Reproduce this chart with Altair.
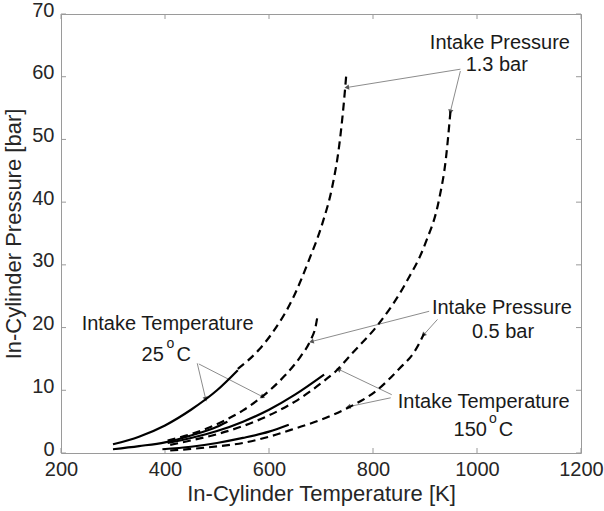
import math
import altair as alt
import pandas as pd

# ---------------- data ----------------
# solid curves
s1_T = [300, 350, 400, 450, 500, 540]
s1_P = [1.4, 2.6, 4.4, 6.9, 10.0, 13.2]
s2_T = [300, 350, 400, 450, 500, 520]
s2_P = [0.6, 1.1, 1.7, 2.8, 4.2, 5.0]
s3_T = [405, 450, 500, 550, 600, 650, 706]
s3_P = [1.6, 2.4, 3.5, 5.0, 6.9, 9.3, 12.5]
s4_T = [395, 450, 500, 550, 600, 638]
s4_P = [0.6, 1.0, 1.6, 2.4, 3.4, 4.5]

# dashed curves
d1_T = [540, 581, 606, 645, 677, 703, 722, 735, 744, 749]
d1_P = [13.4, 16.5, 19.1, 24.5, 30.8, 36.7, 42.6, 49.0, 55.9, 60.7]
d2_T = [405, 450, 510, 550, 587, 630, 660, 680, 690, 693]
d2_P = [2.0, 3.0, 5.0, 6.8, 9.0, 12.3, 15.3, 18.0, 20.3, 21.7]
d3_T = [410, 450, 500, 550, 600, 650, 709, 728, 760, 812, 863, 901, 927, 940, 949]
d3_P = [1.3, 2.0, 3.0, 4.3, 6.0, 8.2, 11.7, 13.0, 15.9, 20.7, 27.1, 33.5, 40.4, 46.8, 54.5]
d4_T = [410, 450, 500, 550, 600, 650, 700, 754, 806, 850, 880, 898]
d4_P = [0.4, 0.65, 1.05, 1.6, 2.6, 3.9, 5.3, 7.3, 9.9, 13.4, 16.2, 19.0]

# annotation texts (centered)
ann_text = ["Intake Pressure", "1.3 bar", "Intake Pressure", "0.5 bar",
            "Intake Temperature", "Intake Temperature"]
ann_T = [1044, 1038, 1048, 1050, 405, 1013]
ann_P = [65.4, 61.9, 23.1, 19.3, 20.6, 8.2]

# temperature values with superscript "o" (left aligned pieces)
deg_text = ["25", "C", "150", "C"]
deg_T = [355, 422, 955, 1042]
deg_P = [15.7, 15.7, 3.7, 3.7]
sup_text = ["o", "o"]
sup_T = [403, 1023]
sup_P = [17.4, 5.4]

# annotation arrows: start -> tip
arr_T1 = [968, 968, 908, 924, 462, 465, 836, 834]
arr_P1 = [61.2, 60.9, 22.6, 21.3, 14.3, 14.2, 9.3, 8.8]
arr_T2 = [751, 949, 683, 898, 478, 587, 735, 754]
arr_P2 = [58.3, 54.5, 17.8, 18.9, 8.7, 9.0, 13.3, 7.4]

x_ticks = [200, 400, 600, 800, 1000, 1200]
y_ticks = [0, 10, 20, 30, 40, 50, 60, 70]

# ---------------- build tables ----------------
W, H = 520, 439
X_DOM, Y_DOM = [200, 1200], [0, 70]
FONT = "Liberation Sans"
TXT = "#262626"
AX = "#9a9a9a"


def curves(named):
    rows = []
    for name, (ts, ps) in named.items():
        for i, (t, p) in enumerate(zip(ts, ps)):
            rows.append({"series": name, "T": t, "P": p, "i": i})
    return pd.DataFrame(rows)


solid = curves({"s1": (s1_T, s1_P), "s2": (s2_T, s2_P),
                "s3": (s3_T, s3_P), "s4": (s4_T, s4_P)})
dashed = curves({"d1": (d1_T, d1_P), "d2": (d2_T, d2_P),
                 "d3": (d3_T, d3_P), "d4": (d4_T, d4_P)})

kx = W / (X_DOM[1] - X_DOM[0])
ky = H / (Y_DOM[1] - Y_DOM[0])
arrows = pd.DataFrame({"T1": arr_T1, "P1": arr_P1, "T2": arr_T2, "P2": arr_P2})
arrows["ang"] = [
    math.degrees(math.atan2((t2 - t1) * kx, (p2 - p1) * ky)) % 360
    for t1, p1, t2, p2 in zip(arr_T1, arr_P1, arr_T2, arr_P2)
]

ann = pd.DataFrame({"text": ann_text, "T": ann_T, "P": ann_P})
deg = pd.DataFrame({"text": deg_text, "T": deg_T, "P": deg_P})
sup = pd.DataFrame({"text": sup_text, "T": sup_T, "P": sup_P})
xt = pd.DataFrame({"v": x_ticks})
yt = pd.DataFrame({"v": y_ticks})

xs = alt.Scale(domain=X_DOM, nice=False, zero=False)
ys = alt.Scale(domain=Y_DOM, nice=False, zero=False)

x_axis = alt.Axis(values=x_ticks, format="d", title="In-Cylinder Temperature [K]",
                  grid=False, ticks=False, domain=False, labelFlush=False,
                  labelFontSize=20, titleFontSize=22,
                  labelColor=TXT, titleColor=TXT, labelFont=FONT, titleFont=FONT,
                  labelPadding=6, titlePadding=4, titleFontWeight="normal")
y_axis = alt.Axis(values=y_ticks, format="d", title="In-Cylinder Pressure [bar]",
                  grid=False, ticks=False, domain=False, labelFlush=False,
                  labelFontSize=20, titleFontSize=22, labelOffset=-4,
                  labelColor=TXT, titleColor=TXT, labelFont=FONT, titleFont=FONT,
                  labelPadding=7, titlePadding=6, titleFontWeight="normal")

base_solid = alt.Chart(solid).mark_line(color="black", strokeWidth=2.2,
                                         interpolate="monotone").encode(
    x=alt.X("T:Q", scale=xs, axis=x_axis),
    y=alt.Y("P:Q", scale=ys, axis=y_axis),
    detail="series:N",
    order="i:Q",
)
base_dashed = alt.Chart(dashed).mark_line(color="black", strokeWidth=2.2,
                                           strokeDash=[8, 5],
                                           interpolate="monotone").encode(
    x=alt.X("T:Q", scale=xs),
    y=alt.Y("P:Q", scale=ys),
    detail="series:N",
    order="i:Q",
)

arrow_lines = alt.Chart(arrows).mark_rule(color="#8c8c8c", strokeWidth=1).encode(
    x=alt.X("T1:Q", scale=xs), y=alt.Y("P1:Q", scale=ys),
    x2="T2:Q", y2="P2:Q",
)
arrow_heads = alt.Chart(arrows).mark_point(shape="triangle", filled=True,
                                           color="#555555", size=28, opacity=1).encode(
    x=alt.X("T2:Q", scale=xs), y=alt.Y("P2:Q", scale=ys),
    angle=alt.Angle("ang:Q", scale=None),
)

ann_text_l = alt.Chart(ann).mark_text(font=FONT, fontSize=20, color="#1a1a1a",
                                      align="center", baseline="middle").encode(
    x=alt.X("T:Q", scale=xs), y=alt.Y("P:Q", scale=ys), text="text:N")
deg_text_l = alt.Chart(deg).mark_text(font=FONT, fontSize=20, color="#1a1a1a",
                                      align="left", baseline="middle").encode(
    x=alt.X("T:Q", scale=xs), y=alt.Y("P:Q", scale=ys), text="text:N")
sup_text_l = alt.Chart(sup).mark_text(font=FONT, fontSize=14, color="#1a1a1a",
                                      align="left", baseline="middle").encode(
    x=alt.X("T:Q", scale=xs), y=alt.Y("P:Q", scale=ys), text="text:N")

tick_b = alt.Chart(xt).mark_rule(color=AX, strokeWidth=1).encode(
    x=alt.X("v:Q", scale=xs), y=alt.value(H), y2=alt.value(H - 5))
tick_t = alt.Chart(xt).mark_rule(color=AX, strokeWidth=1).encode(
    x=alt.X("v:Q", scale=xs), y=alt.value(0), y2=alt.value(5))
tick_l = alt.Chart(yt).mark_rule(color=AX, strokeWidth=1).encode(
    y=alt.Y("v:Q", scale=ys), x=alt.value(0), x2=alt.value(5))
tick_r = alt.Chart(yt).mark_rule(color=AX, strokeWidth=1).encode(
    y=alt.Y("v:Q", scale=ys), x=alt.value(W), x2=alt.value(W - 5))

chart = alt.layer(
    tick_b, tick_t, tick_l, tick_r,
    arrow_lines, arrow_heads,
    base_solid, base_dashed,
    ann_text_l, deg_text_l, sup_text_l,
).properties(
    width=W, height=H,
    autosize=alt.AutoSizeParams(type="none"),
    padding={"left": 61, "top": 14, "right": 23, "bottom": 58},
    background="white",
).configure_view(stroke=AX, strokeWidth=1)

chart.save("out.html", embed_options={"renderer": "svg", "actions": False})
